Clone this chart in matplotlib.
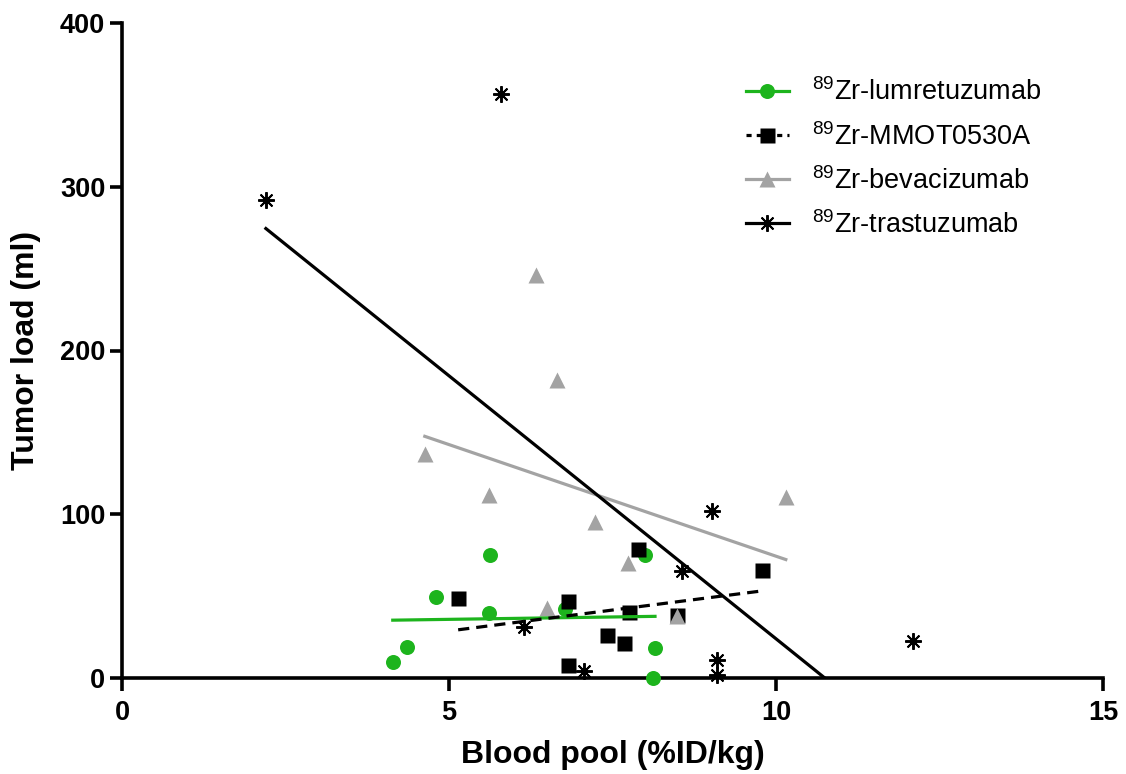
import numpy as np
import matplotlib
matplotlib.use("Agg")
import matplotlib.pyplot as plt
from matplotlib.lines import Line2D

plt.rcParams['font.family'] = ['Liberation Sans', 'DejaVu Sans']
plt.rcParams['mathtext.fontset'] = 'custom'
plt.rcParams['mathtext.rm'] = 'Liberation Sans'
plt.rcParams['mathtext.it'] = 'Liberation Sans'

# Data (Blood pool %ID/kg, Tumor load ml)
lum_x = [4.14, 4.36, 4.80, 5.63, 5.61, 6.77, 8.00, 8.15, 8.12]
lum_y = [9.8, 19.0, 49.5, 75.0, 39.7, 42.0, 75.0, 18.5, 0.0]

mmot_x = [5.14, 6.82, 7.89, 7.75, 7.42, 7.68, 6.82, 8.49, 9.79]
mmot_y = [49.0, 47.0, 78.7, 40.3, 26.0, 21.5, 8.0, 38.5, 66.0]

bev_x = [6.33, 6.65, 4.63, 5.61, 7.23, 10.15, 6.50, 7.74, 8.49]
bev_y = [246.0, 182.0, 136.5, 111.5, 95.0, 110.5, 43.0, 70.5, 38.0]

tras_x = [2.20, 5.80, 9.02, 8.56, 6.15, 7.06, 9.10, 9.10, 12.10]
tras_y = [292.0, 356.6, 102.0, 65.5, 31.0, 4.5, 11.0, 2.0, 22.6]

labels = [r'$^{89}$Zr-lumretuzumab', r'$^{89}$Zr-MMOT0530A',
          r'$^{89}$Zr-bevacizumab', r'$^{89}$Zr-trastuzumab']

x_ticks = [0, 5, 10, 15]
y_ticks = [0, 100, 200, 300, 400]

green = '#1DB41D'
grey = '#A3A3A3'
black = '#000000'
ast = (8, 2, 0)

fig = plt.figure(figsize=(11.26, 7.74), dpi=100)
ax = fig.add_axes([122/1126, 1-678/774, (1103-122)/1126, (678-23)/774])

ax.plot(lum_x, lum_y, 'o', color=green, ms=10.8, mec='none', clip_on=False, zorder=3)
ax.plot(mmot_x, mmot_y, 's', color=black, ms=10.8, mec='none', clip_on=False, zorder=3)
ax.plot(bev_x, bev_y, '^', color=grey, ms=12, mec='none', clip_on=False, zorder=3)
ax.plot(tras_x, tras_y, marker=ast, ls='none', color=black, ms=12, mew=1.4, clip_on=False, zorder=3)

def fit(xs, ys):
    xs = np.asarray(xs); ys = np.asarray(ys)
    m, b = np.polyfit(xs, ys, 1)
    xx = np.array([xs.min(), xs.max()])
    return xx, m * xx + b

lw = 2.3
xx, yy = fit(lum_x, lum_y)
ax.plot(xx, yy, '-', color=green, lw=lw, zorder=4)
xx, yy = fit(mmot_x, mmot_y)
ax.plot(xx, yy, color=black, lw=lw, ls=(0, (3.5, 2.2)), zorder=4)
xx, yy = fit(bev_x, bev_y)
ax.plot(xx, yy, '-', color=grey, lw=lw, zorder=4)
xx, yy = fit(tras_x, tras_y)
ax.plot(xx, yy, '-', color=black, lw=lw, zorder=4)

ax.set_xlim(0, 15)
ax.set_ylim(0, 400)
ax.set_xticks(x_ticks)
ax.set_yticks(y_ticks)
for s in ['top', 'right']:
    ax.spines[s].set_visible(False)
for s in ['left', 'bottom']:
    ax.spines[s].set_linewidth(2.6)
ax.tick_params(axis='both', which='major', direction='out', length=9, width=2.6,
               labelsize=19.5)
ax.tick_params(axis='x', pad=7)
ax.tick_params(axis='y', pad=3)
for lab in ax.get_xticklabels() + ax.get_yticklabels():
    lab.set_fontweight('bold')

ax.set_xlabel('Blood pool (%ID/kg)', fontsize=23, fontweight='bold', labelpad=10)
ax.set_ylabel('Tumor load (ml)', fontsize=23, fontweight='bold', labelpad=14)

handles = [
    Line2D([], [], color=green, lw=lw, marker='o', ms=10.8, mec='none'),
    Line2D([], [], color=black, lw=lw, ls=(0, (1.6, 1.6)), marker='s', ms=10.8, mec='none'),
    Line2D([], [], color=grey, lw=lw, marker='^', ms=12, mec='none'),
    Line2D([], [], color=black, lw=lw, marker=ast, ms=12, mew=1.4),
]
leg = ax.legend(handles, labels, loc='upper left', bbox_to_anchor=(724/1126, 1-57/774),
                bbox_transform=fig.transFigure, frameon=False, fontsize=19.5,
                handlelength=1.6, handletextpad=0.85, labelspacing=0.6, borderpad=0.3)

fig.savefig('out.png', dpi=100)
